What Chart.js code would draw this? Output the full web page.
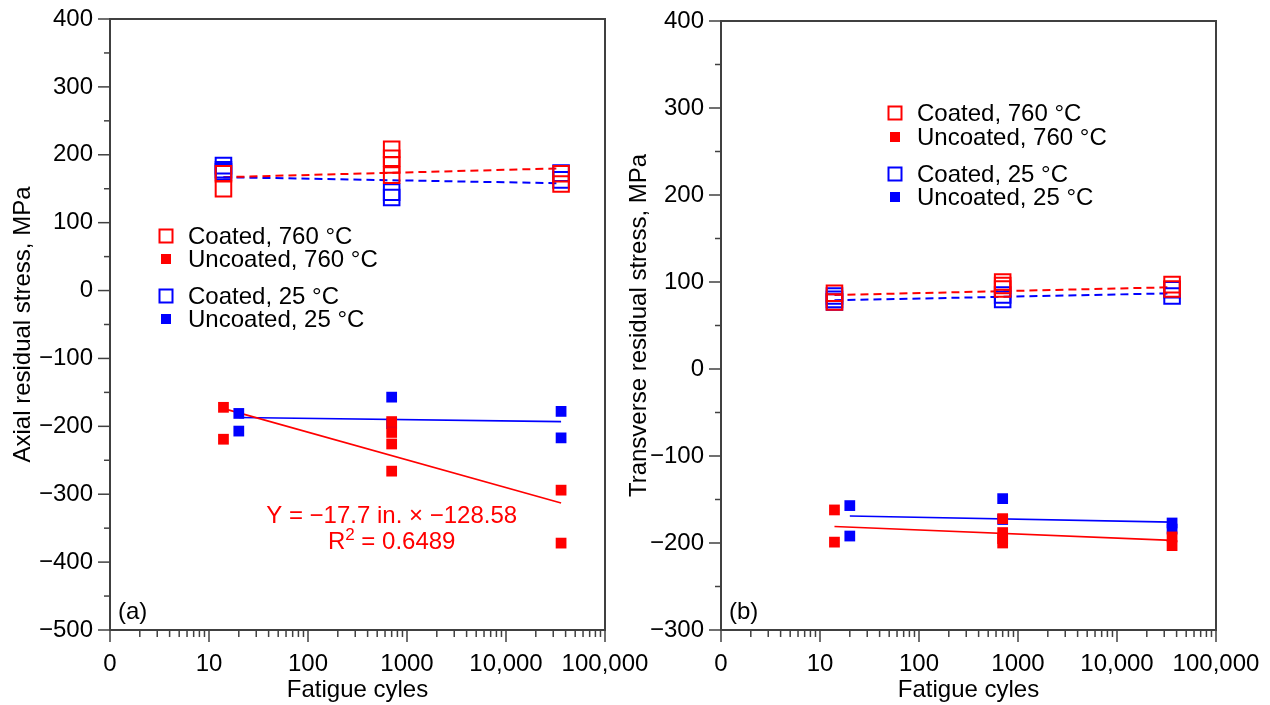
<!DOCTYPE html>
<html>
<head>
<meta charset="utf-8">
<title>Residual stress vs fatigue cycles</title>
<script src="https://cdn.jsdelivr.net/npm/chart.js@4.4.1/dist/chart.umd.min.js"></script>
<style>
    body { margin: 0; background: #fff; }
    #wrap { position: relative; width: 1270px; height: 705px; overflow: hidden; }
    canvas { position: absolute; top: 0; }
    #chartA { left: 0; }
    #chartB { left: 620px; }
</style>
</head>
<body>
<div id="wrap">
    <canvas id="chartA" width="660" height="705"></canvas>
    <canvas id="chartB" width="650" height="705"></canvas>
</div>
<script>
// x axis (log) tick labels
const xTickValues = [1, 10, 100, 1000, 10000, 100000];
const xTickLabels = ['0', '10', '100', '1000', '10,000', '100,000'];
const legendLabels = ['Coated, 760 \u00B0C', 'Uncoated, 760 \u00B0C', 'Coated, 25 \u00B0C', 'Uncoated, 25 \u00B0C'];

// ---- panel (a): axial residual stress, MPa ----
const aCoated760X = [14, 14, 700, 700, 700, 700, 36000, 36000];
const aCoated760Y = [150, 172, 208, 195, 185, 170, 172, 157];
const aUncoated760X = [14, 14, 700, 700, 700, 700, 36000, 36000];
const aUncoated760Y = [-172, -219, -193, -209, -226, -266, -294, -372];
const aCoated25X = [14, 14, 14, 700, 700, 36000, 36000];
const aCoated25Y = [184, 178, 175, 145, 137, 173, 163];
const aUncoated25X = [20, 20, 700, 700, 36000, 36000];
const aUncoated25Y = [-181, -207, -157, -196, -178, -217];
// trend lines, end points
const aTrendC760X = [14, 36000], aTrendC760Y = [167, 180];
const aTrendC25X = [14, 36000], aTrendC25Y = [167, 158];
const aFitU760X = [15, 36000], aFitU760Y = [-175, -313];
const aFitU25X = [20, 36000], aFitU25Y = [-187, -193];

// ---- panel (b): transverse residual stress, MPa ----
const bCoated760X = [14, 14, 700, 700, 700, 36000, 36000];
const bCoated760Y = [87, 77, 100, 96, 92, 97, 92];
const bUncoated760X = [14, 14, 700, 700, 700, 700, 36000, 36000];
const bUncoated760Y = [-162, -199, -172, -188, -195, -200, -193, -203];
const bCoated25X = [14, 14, 14, 700, 700, 36000, 36000];
const bCoated25Y = [84, 80, 77, 85, 80, 91, 84];
const bUncoated25X = [20, 20, 700, 700, 36000, 36000];
const bUncoated25Y = [-157, -192, -149, -173, -177, -184];
const bTrendC760X = [14, 36000], bTrendC760Y = [85, 94];
const bTrendC25X = [14, 36000], bTrendC25Y = [79, 87];
const bFitU760X = [14, 36000], bFitU760Y = [-181, -197];
const bFitU25X = [20, 36000], bFitU25Y = [-169, -176];

const RED = '#ff0000';
const BLUE = '#0000ff';
const AXIS = '#404040';
const FONT = "'Liberation Sans', Arial, sans-serif";

Chart.defaults.font.family = FONT;
Chart.defaults.font.size = 24;
Chart.defaults.color = '#000';

function pts(xs, ys) {
    return xs.map((x, i) => ({ x: x, y: ys[i] }));
}

function marks(xs, ys, color, open) {
    return {
        data: pts(xs, ys),
        pointStyle: 'rect',
        pointRadius: open ? 11 : 7.6,
        pointBorderWidth: open ? 2 : 0,
        pointBorderColor: color,
        pointBackgroundColor: open ? 'rgba(0,0,0,0)' : color,
        showLine: false
    };
}

function line(xs, ys, color, dashed) {
    return {
        data: pts(xs, ys),
        showLine: true,
        pointRadius: 0,
        borderColor: color,
        borderWidth: dashed ? 2 : 1.6,
        borderDash: dashed ? [8, 5] : [],
        fill: false
    };
}

function minus(v) {
    return v < 0 ? '\u2212' + Math.abs(v) : String(v);
}

// frame, tick marks, legend and notes
const decor = {
    id: 'decor',
    afterDraw(chart, args, opts) {
        const ctx = chart.ctx;
        const area = chart.chartArea;
        const xs = chart.scales.x, ys = chart.scales.y;
        ctx.save();
        ctx.strokeStyle = AXIS;
        ctx.lineWidth = 2;
        ctx.beginPath();
        ctx.moveTo(area.left, area.top);
        ctx.lineTo(area.right, area.top);
        ctx.lineTo(area.right, area.bottom);
        ctx.stroke();

        ctx.lineWidth = 1.5;
        xs.ticks.forEach(t => {
            let px = xs.getPixelForValue(t.value);
            let len = xTickValues.includes(t.value) ? 12 : 7;
            ctx.beginPath();
            ctx.moveTo(px, area.bottom);
            ctx.lineTo(px, area.bottom + len);
            ctx.stroke();
        });
        ys.ticks.forEach(t => {
            let py = ys.getPixelForValue(t.value);
            let len = t.value % 100 === 0 ? 12 : 6;
            ctx.beginPath();
            ctx.moveTo(area.left - len, py);
            ctx.lineTo(area.left, py);
            ctx.stroke();
        });

        // legend
        ctx.font = '24px ' + FONT;
        ctx.textBaseline = 'middle';
        ctx.textAlign = 'left';
        const colors = [RED, RED, BLUE, BLUE];
        opts.legendRows.forEach((y, i) => {
            let mx = opts.legendX;
            if (i % 2 === 0) {
                ctx.strokeStyle = colors[i];
                ctx.lineWidth = 2;
                ctx.strokeRect(mx - 6.5, y - 6.5, 13, 13);
            } else {
                ctx.fillStyle = colors[i];
                ctx.fillRect(mx - 5, y - 5, 10, 10);
            }
            ctx.fillStyle = '#000';
            ctx.fillText(legendLabels[i], mx + 22, y + 1);
        });

        // panel letter
        ctx.fillText(opts.panel, area.left + 8, area.bottom - 18);

        // fit equation
        if (opts.note) {
            let nx = xs.getPixelForValue(opts.note.x);
            let ny = ys.getPixelForValue(opts.note.y);
            ctx.fillStyle = RED;
            ctx.textAlign = 'center';
            ctx.fillText(opts.note.line1, nx, ny);
            let a = 'R', b = ' = ' + opts.note.r2;
            ctx.font = '24px ' + FONT;
            let wa = ctx.measureText(a).width, wb = ctx.measureText(b).width;
            ctx.font = '17px ' + FONT;
            let ws = ctx.measureText('2').width;
            let x0 = nx - (wa + ws + wb) / 2;
            let y2 = ny + 26;
            ctx.textAlign = 'left';
            ctx.font = '24px ' + FONT;
            ctx.fillText(a, x0, y2);
            ctx.font = '17px ' + FONT;
            ctx.fillText('2', x0 + wa, y2 - 7);
            ctx.font = '24px ' + FONT;
            ctx.fillText(b, x0 + wa + ws, y2);
        }
        ctx.restore();
    }
};

function noPad(s) {
    s.paddingTop = 0;
    s.paddingBottom = 0;
    s.paddingLeft = 0;
    s.paddingRight = 0;
}

function makePanel(id, p) {
    const ctx = document.getElementById(id);
    let allX = [];
    for (let k = 0; k < 5; k++) {
        for (let m = 1; m < 10; m++) allX.push(m * Math.pow(10, k));
    }
    allX.push(100000);

    return new Chart(ctx, {
        type: 'scatter',
        data: { datasets: p.datasets },
        options: {
            responsive: false,
            animation: false,
            events: [],
            layout: { padding: { top: p.top, right: p.right, left: 0, bottom: 0 } },
            plugins: {
                legend: { display: false },
                tooltip: { enabled: false },
                decor: p.decor
            },
            scales: {
                x: {
                    type: 'logarithmic',
                    min: 1,
                    max: 100000,
                    afterBuildTicks: s => { s.ticks = allX.map(v => ({ value: v })); },
                    afterFit: s => { s.height = 75; noPad(s); },
                    grid: { display: true, drawOnChartArea: false, drawTicks: false },
                    border: { display: true, color: AXIS, width: 2 },
                    ticks: {
                        autoSkip: false,
                        maxRotation: 0,
                        padding: 20,
                        callback: v => {
                            let i = xTickValues.indexOf(v);
                            return i < 0 ? '' : xTickLabels[i];
                        }
                    },
                    title: { display: true, text: 'Fatigue cyles', padding: { top: 0, bottom: 0 } }
                },
                y: {
                    min: p.yMin,
                    max: 400,
                    afterFit: s => { s.width = p.yWidth; noPad(s); },
                    grid: { display: true, drawOnChartArea: false, drawTicks: false },
                    border: { display: true, color: AXIS, width: 2 },
                    ticks: {
                        stepSize: 50,
                        padding: 17,
                        callback: v => (v % 100 === 0 ? minus(v) : '')
                    },
                    title: { display: true, text: p.yTitle, padding: { top: p.titlePad, bottom: 0 } }
                }
            }
        },
        plugins: [decor]
    });
}

makePanel('chartA', {
    top: 19, right: 55, yWidth: 110, yMin: -500, titlePad: 9,
    yTitle: 'Axial residual stress, MPa',
    datasets: [
        marks(aCoated760X, aCoated760Y, RED, true),
        marks(aCoated25X, aCoated25Y, BLUE, true),
        marks(aUncoated760X, aUncoated760Y, RED, false),
        marks(aUncoated25X, aUncoated25Y, BLUE, false),
        line(aTrendC760X, aTrendC760Y, RED, true),
        line(aTrendC25X, aTrendC25Y, BLUE, true),
        line(aFitU760X, aFitU760Y, RED, false),
        line(aFitU25X, aFitU25Y, BLUE, false)
    ],
    decor: {
        legendX: 166, legendRows: [236, 259, 296, 319], panel: '(a)',
        note: { x: 700, y: -333, line1: 'Y = \u221217.7 in. \u00D7 \u2212128.58', r2: '0.6489' }
    }
});

makePanel('chartB', {
    top: 21, right: 54, yWidth: 101, yMin: -300, titlePad: 5,
    yTitle: 'Transverse residual stress, MPa',
    datasets: [
        marks(bCoated760X, bCoated760Y, RED, true),
        marks(bCoated25X, bCoated25Y, BLUE, true),
        marks(bUncoated760X, bUncoated760Y, RED, false),
        marks(bUncoated25X, bUncoated25Y, BLUE, false),
        line(bTrendC760X, bTrendC760Y, RED, true),
        line(bTrendC25X, bTrendC25Y, BLUE, true),
        line(bFitU760X, bFitU760Y, RED, false),
        line(bFitU25X, bFitU25Y, BLUE, false)
    ],
    decor: {
        legendX: 275, legendRows: [113, 137, 174, 197], panel: '(b)'
    }
});
</script>
</body>
</html>
